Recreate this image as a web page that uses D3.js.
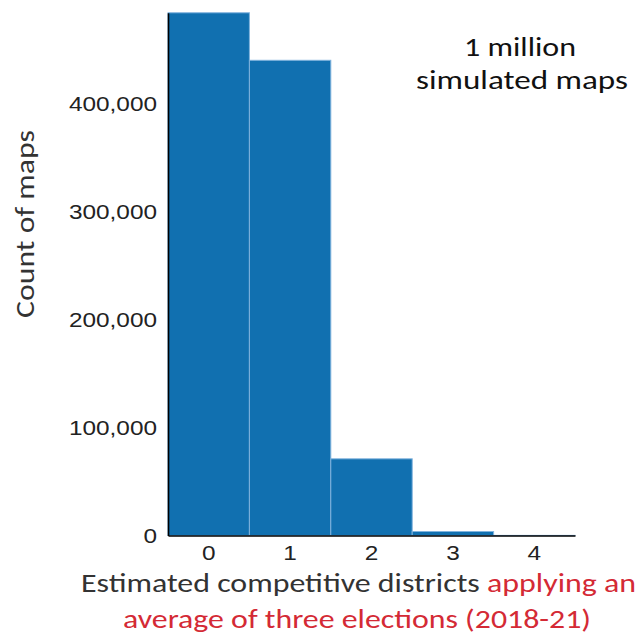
<!DOCTYPE html>
<html>
<head>
<meta charset="utf-8">
<script src="https://cdn.jsdelivr.net/npm/d3@7"></script>
<style>
  html, body { margin: 0; padding: 0; background: #fff; }
  svg { display: block; }
</style>
</head>
<body>
<svg id="chart" width="641" height="637"></svg>
<script>
// ---- data ----
const categories = ["0", "1", "2", "3", "4"];
const counts = [484000, 440000, 71000, 3700, 100];
const yTicks = [0, 100000, 200000, 300000, 400000];
const yLabel = "Count of maps";
const xLabelLine1 = ["Estimated competitive districts ", "applying an"];
const xLabelLine2 = "average of three elections (2018-21)";
const note = ["1 million", "simulated maps"];

const svg = d3.select("#chart");
const left = 168, right = 575, bottom = 535.5;
const pxPer100k = 108;

const x = d3.scaleBand().domain(categories).range([left, right]).padding(0);
const y = d3.scaleLinear().domain([0, d3.max(counts)])
  .range([bottom, bottom - d3.max(counts) / 100000 * pxPer100k]);

// bars
svg.append("g").selectAll("rect").data(counts).join("rect")
  .attr("x", (d, i) => x(categories[i]))
  .attr("y", d => y(d))
  .attr("width", x.bandwidth())
  .attr("height", d => bottom - y(d))
  .attr("fill", "#1170b0")
  .attr("stroke", "#7fb2dd")
  .attr("stroke-width", 1);

function stretch(sel, k) {
  sel.each(function () {
    const len = this.getComputedTextLength();
    d3.select(this).attr("textLength", len * k).attr("lengthAdjust", "spacingAndGlyphs");
  });
}

// x axis
const gx = svg.append("g").attr("transform", `translate(0,${bottom})`)
  .call(d3.axisBottom(x).tickSize(0).tickPadding(10));
gx.select(".domain").attr("stroke", "#000").attr("stroke-width", 1.6);
gx.selectAll("text").attr("font-family", "Liberation Sans, Arial, sans-serif")
  .attr("font-size", 21).attr("fill", "#222").attr("dy", "0.71em");
stretch(gx.selectAll("text"), 1.16);

// y axis
const gy = svg.append("g").attr("transform", `translate(${left},0)`)
  .call(d3.axisLeft(y).tickValues(yTicks).tickSize(0).tickPadding(11)
    .tickFormat(d3.format(",")));
gy.select(".domain").attr("stroke", "#000").attr("stroke-width", 1.6);
gy.selectAll("text").attr("font-family", "Liberation Sans, Arial, sans-serif")
  .attr("font-size", 21).attr("fill", "#222");
stretch(gy.selectAll("text"), 1.16);

const calib = "Carlito, Calibri, Lato, sans-serif";

// y label
svg.append("text")
  .attr("transform", "translate(34,224) rotate(-90)")
  .attr("text-anchor", "middle")
  .attr("font-family", calib).attr("font-size", 27).attr("fill", "#333")
  .attr("textLength", 188).attr("lengthAdjust", "spacingAndGlyphs")
  .text(yLabel);

// x label
const l1 = svg.append("text")
  .attr("x", 81).attr("y", 592)
  .attr("font-family", calib).attr("font-size", 27)
  .attr("textLength", 555).attr("lengthAdjust", "spacingAndGlyphs");
l1.append("tspan").attr("fill", "#333").text(xLabelLine1[0]);
l1.append("tspan").attr("fill", "#d42a35").text(xLabelLine1[1]);

svg.append("text")
  .attr("x", 123).attr("y", 628)
  .attr("font-family", calib).attr("font-size", 27).attr("fill", "#d42a35")
  .attr("textLength", 468).attr("lengthAdjust", "spacingAndGlyphs")
  .text(xLabelLine2);

// note
svg.append("text")
  .attr("x", 520).attr("y", 56)
  .attr("text-anchor", "middle")
  .attr("font-family", calib).attr("font-size", 26).attr("fill", "#111")
  .attr("textLength", 112).attr("lengthAdjust", "spacingAndGlyphs")
  .text(note[0]);
svg.append("text")
  .attr("x", 522).attr("y", 89)
  .attr("text-anchor", "middle")
  .attr("font-family", calib).attr("font-size", 26).attr("fill", "#111")
  .attr("textLength", 212).attr("lengthAdjust", "spacingAndGlyphs")
  .text(note[1]);
</script>
</body>
</html>
